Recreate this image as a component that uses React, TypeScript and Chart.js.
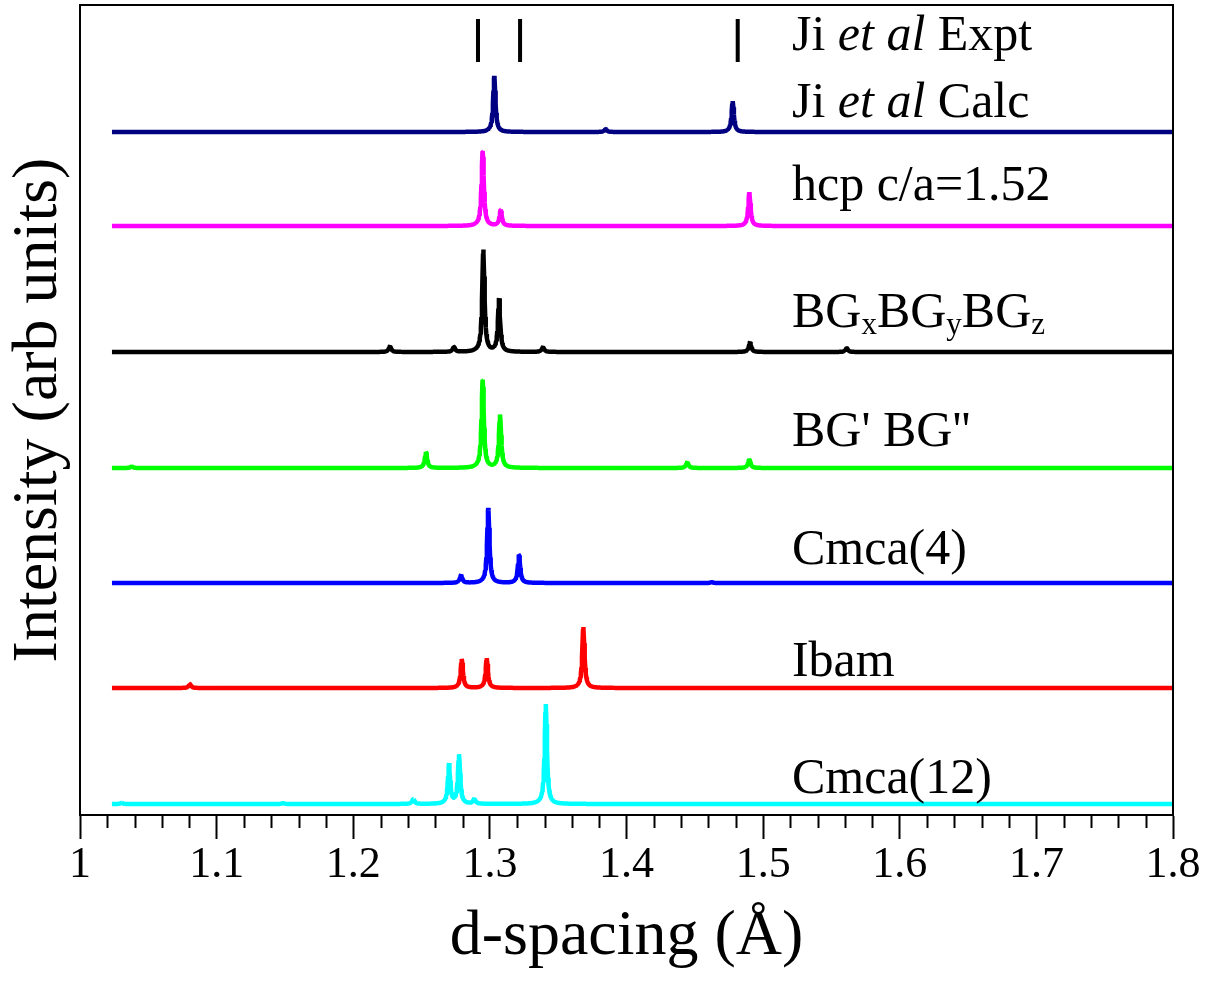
import { useEffect, useRef } from "react";
import { Chart, registerables } from "chart.js";

Chart.register(...registerables);

const FONT = "'Liberation Serif', 'Times New Roman', serif";

// x range of the simulated patterns (d-spacing, Å)
const X_START = 1.0234;
const X_END = 1.8;
const STEP = 0.0004;
const PEAK_HWHM = 0.001;

// x-axis tick labels
const X_TICK_LABELS = ["1", "1.1", "1.2", "1.3", "1.4", "1.5", "1.6", "1.7", "1.8"];

// Ji et al experimental reflections (d-spacing)
const EXPT_POSITIONS = [1.2913, 1.3221, 1.4814];
const EXPT_LOW = 753;
const EXPT_HIGH = 796;

// Peak lists: [d-spacing, intensity]
const JI_CALC_PEAKS = [[1.3032, 56], [1.3848, 3], [1.4777, 31]];
const HCP_PEAKS = [[1.2947, 75], [1.3079, 16], [1.4899, 34]];
const BGXYZ_PEAKS = [[1.2269, 6], [1.2737, 5], [1.2952, 102], [1.3067, 53], [1.3389, 5], [1.4904, 10], [1.5612, 4]];
const BGP_PEAKS = [[1.0378, 1.5], [1.2532, 16], [1.2947, 88], [1.3074, 53], [1.4445, 6], [1.4899, 9]];
const CMCA4_PEAKS = [[1.2789, 8], [1.2988, 75], [1.3213, 28], [1.4624, 0.8]];
const IBAM_PEAKS = [[1.0805, 4], [1.2794, 29], [1.2977, 30], [1.3684, 61]];
const CMCA12_PEAKS = [[1.0305, 1], [1.1486, 0.8], [1.244, 5], [1.2701, 40], [1.2774, 49], [1.2886, 5], [1.3409, 100]];

// vertical offsets of each pattern (arb units)
const OFFSETS = [683, 589, 463, 347, 232, 127, 11];
const SERIES_NAMES = ["Ji et al Calc", "hcp c/a=1.52", "BGxBGyBGz", "BG' BG''", "Cmca(4)", "Ibam", "Cmca(12)"];
const SERIES_COLORS = ["#000080", "#ff00ff", "#000000", "#00ff00", "#0000ff", "#ff0000", "#00ffff"];
const SERIES_PEAKS = [JI_CALC_PEAKS, HCP_PEAKS, BGXYZ_PEAKS, BGP_PEAKS, CMCA4_PEAKS, IBAM_PEAKS, CMCA12_PEAKS];

// Label texts: segments [text, style]
const LABELS: [string, string][][] = [
  [["Ji ", "n"], ["et al", "i"], [" Expt", "n"]],
  [["Ji ", "n"], ["et al", "i"], [" Calc", "n"]],
  [["hcp c/a=1.52", "n"]],
  [["BG", "n"], ["x", "s"], ["BG", "n"], ["y", "s"], ["BG", "n"], ["z", "s"]],
  [["BG' BG''", "n"]],
  [["Cmca(4)", "n"]],
  [["Ibam", "n"]],
  [["Cmca(12)", "n"]],
];
const LABEL_X = 1.5211;
const LABEL_BASELINES = [765, 698, 615, 488, 369, 251, 139, 22];

function profile(peaks: number[][], base: number) {
  const xs: number[] = [];
  for (let x = X_START; x <= X_END + 1e-9; x += STEP) xs.push(x);
  peaks.forEach((p) => xs.push(p[0]));
  xs.sort((a, b) => a - b);
  return xs.map((x) => {
    let y = base;
    for (const [c, h] of peaks) {
      const u = (x - c) / PEAK_HWHM;
      y += h / (1 + u * u);
    }
    return { x, y };
  });
}

const framePlugin = {
  id: "frameAndLabels",
  afterDraw(chart: any) {
    const { ctx, chartArea, scales } = chart;
    const xs = scales.x;
    const ys = scales.y;
    ctx.save();
    // frame
    ctx.strokeStyle = "#000";
    ctx.lineWidth = 2;
    ctx.strokeRect(chartArea.left, chartArea.top, chartArea.right - chartArea.left, chartArea.bottom - chartArea.top);
    // minor ticks
    ctx.lineWidth = 2;
    for (let i = 0; i <= 40; i++) {
      if (i % 5 === 0) continue;
      const v = 1 + i * 0.02;
      const px = Math.round(xs.getPixelForValue(v)) + 0.5;
      ctx.beginPath();
      ctx.moveTo(px, chartArea.bottom);
      ctx.lineTo(px, chartArea.bottom + 13);
      ctx.stroke();
    }
    // labels
    ctx.fillStyle = "#000";
    ctx.textBaseline = "alphabetic";
    ctx.textAlign = "left";
    const size = 50;
    LABELS.forEach((segs, i) => {
      let x = xs.getPixelForValue(LABEL_X);
      const y = ys.getPixelForValue(LABEL_BASELINES[i]);
      segs.forEach(([t, st]) => {
        if (st === "i") ctx.font = `italic ${size}px ${FONT}`;
        else if (st === "s") ctx.font = `${Math.round(size * 0.62)}px ${FONT}`;
        else ctx.font = `${size}px ${FONT}`;
        const dy = st === "s" ? 7 : 0;
        ctx.fillText(t, x, y + dy);
        x += ctx.measureText(t).width;
      });
    });
    ctx.restore();
  },
};

export default function App() {
  const ref = useRef<HTMLCanvasElement | null>(null);
  useEffect(() => {
    document.body.style.margin = "0";
    if (!ref.current) return;
    const exptData: any[] = [];
    EXPT_POSITIONS.forEach((p) => {
      exptData.push({ x: p, y: EXPT_LOW }, { x: p, y: EXPT_HIGH }, { x: p, y: null });
    });
    const datasets: any[] = SERIES_PEAKS.map((pk, i) => ({
      label: SERIES_NAMES[i],
      data: profile(pk, OFFSETS[i]),
      borderColor: SERIES_COLORS[i],
      borderWidth: 4.5,
      pointRadius: 0,
      borderJoinStyle: "bevel",
      fill: false,
      tension: 0,
    }));
    datasets.unshift({
      label: "Ji et al Expt",
      data: exptData,
      borderColor: "#000",
      borderWidth: 4,
      borderCapStyle: "butt",
      pointRadius: 0,
      spanGaps: false,
      fill: false,
    });
    const chart = new Chart(ref.current, {
      type: "line",
      data: { datasets },
      options: {
        animation: false,
        responsive: false,
        devicePixelRatio: 1,
        parsing: false,
        normalized: true,
        layout: { padding: { top: 5, right: 49, left: 0, bottom: 0 } },
        plugins: { legend: { display: false }, tooltip: { enabled: false } },
        scales: {
          x: {
            type: "linear",
            position: "bottom",
            min: 1,
            max: 1.8,
            ticks: {
              stepSize: 0.1,
              autoSkip: false,
              maxRotation: 0,
              color: "#000",
              padding: 0,
              font: { family: FONT, size: 44 },
              callback: (_v: any, i: number) => X_TICK_LABELS[i],
            },
            grid: { drawOnChartArea: false, drawTicks: true, tickLength: 24, tickWidth: 2, tickColor: "#000" },
            border: { display: true, color: "#000", width: 2 },
            title: { display: true, text: "d-spacing (Å)", color: "#000", font: { family: FONT, size: 64 }, padding: { top: 0, bottom: 9 } },
            afterFit: (s: any) => { s.height = 170; },
          },
          y: {
            type: "linear",
            min: 0,
            max: 810,
            ticks: { display: false },
            grid: { display: false, drawTicks: false },
            border: { display: true, color: "#000", width: 2 },
            title: { display: true, text: "Intensity (arb units)", color: "#000", font: { family: FONT, size: 64 }, padding: { top: 1, bottom: 0 } },
            afterFit: (s: any) => { s.width = 80; },
          },
        },
      },
      plugins: [framePlugin],
    } as any);
    return () => chart.destroy();
  }, []);
  return <canvas ref={ref} width={1222} height={985} style={{ display: "block" }} />;
}
